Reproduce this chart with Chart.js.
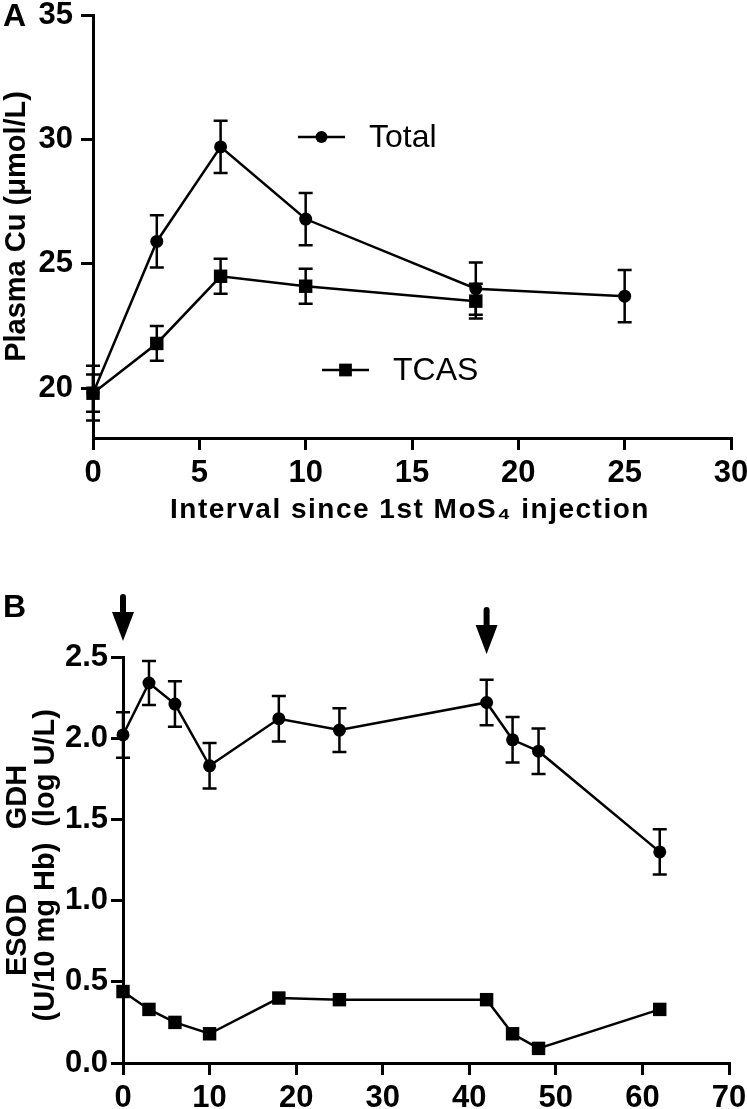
<!DOCTYPE html>
<html>
<head>
<meta charset="utf-8">
<script src="https://cdn.jsdelivr.net/npm/chart.js@4.4.1/dist/chart.umd.min.js"></script>
<style>
  html, body { margin: 0; padding: 0; background: #fff; }
  .panel { position: absolute; left: 0; width: 747px; }
  #wrapA { top: 0; height: 540px; }
  #wrapB { top: 540px; height: 569px; }
</style>
</head>
<body>
<div class="panel" id="wrapA"><canvas id="chartA" width="747" height="540"></canvas></div>
<div class="panel" id="wrapB"><canvas id="chartB" width="747" height="569"></canvas></div>
<script>
// Panel A: plasma copper after the first MoS4 injection
const daysTotal = [0, 3, 6, 10, 18, 25];
const totalCu = [19.8, 25.9, 29.7, 26.8, 24.0, 23.7];
const totalCuErr = [1.1, 1.05, 1.05, 1.05, 1.05, 1.05];
const daysTcas = [0, 3, 6, 10, 18];
const tcasCu = [19.8, 21.8, 24.5, 24.1, 23.5];
const tcasCuErr = [0.75, 0.7, 0.7, 0.7, 0.7];
const xTicksA = [0, 5, 10, 15, 20, 25, 30];
const yTicksA = [20, 25, 30, 35];

// Panel B: GDH and ESOD
const daysB = [0, 3, 6, 10, 18, 25, 42, 45, 48, 62];
const gdh = [2.02, 2.34, 2.21, 1.83, 2.12, 2.05, 2.22, 1.99, 1.92, 1.30];
const gdhErr = [0.14, 0.135, 0.14, 0.14, 0.14, 0.135, 0.14, 0.14, 0.14, 0.14];
const esod = [0.44, 0.33, 0.25, 0.18, 0.40, 0.39, 0.39, 0.18, 0.09, 0.33];
const xTicksB = [0, 10, 20, 30, 40, 50, 60, 70];
const yTicksB = [0, 0.5, 1.0, 1.5, 2.0, 2.5];
const injectionDays = [0, 42];

const tickFont = { family: 'Liberation Sans Narrow, Liberation Sans, sans-serif', weight: 'bold', size: 31 };

function points(xs, ys) {
    return xs.map((x, i) => ({ x: x, y: ys[i] }));
}

// zet de maat van de as vast zodat het plotgebied precies valt
function fixWidth(w) {
    return s => { s.width = w; s.paddingTop = 0; s.paddingBottom = 0; s.paddingLeft = 0; s.paddingRight = 0; };
}
function fixHeight(h) {
    return s => { s.height = h; s.paddingTop = 0; s.paddingBottom = 0; s.paddingLeft = 0; s.paddingRight = 0; };
}
function useTicks(list) {
    return s => { s.ticks = list.map(v => ({ value: v })); };
}

function axis(extra) {
    return Object.assign({
        type: 'linear',
        grid: { display: true, drawOnChartArea: false, drawTicks: true, tickLength: 12, lineWidth: 3, color: '#000' },
        border: { display: true, color: '#000', width: 3 },
        ticks: { color: '#000', font: tickFont, padding: 5, autoSkip: false, maxRotation: 0 }
    }, extra);
}

function drawMarker(ctx, style, x, y, r) {
    ctx.beginPath();
    if (style === 'rect') {
        const s = r * Math.SQRT1_2;
        ctx.rect(x - s, y - s, 2 * s, 2 * s);
    } else {
        ctx.arc(x, y, r, 0, Math.PI * 2);
    }
    ctx.fill();
}

function rotatedText(ctx, text, x, y) {
    ctx.save();
    ctx.translate(x, y);
    ctx.rotate(-Math.PI / 2);
    ctx.fillText(text, 0, 0);
    ctx.restore();
}

// Foutbalken tekenen vanuit de schalen van de grafiek
const errorBarPlugin = {
    id: 'errorBars',
    beforeDatasetsDraw(chart) {
        const ctx = chart.ctx;
        const xs = chart.scales.x, ys = chart.scales.y;
        ctx.save();
        ctx.strokeStyle = '#000';
        ctx.lineWidth = 2.5;
        chart.data.datasets.forEach(ds => {
            if (!ds.errors) return;
            ds.data.forEach((p, i) => {
                const e = ds.errors[i];
                const px = xs.getPixelForValue(p.x);
                const top = ys.getPixelForValue(p.y + e);
                const bot = ys.getPixelForValue(p.y - e);
                ctx.beginPath();
                ctx.moveTo(px, top); ctx.lineTo(px, bot);
                ctx.moveTo(px - 7, top); ctx.lineTo(px + 7, top);
                ctx.moveTo(px - 7, bot); ctx.lineTo(px + 7, bot);
                ctx.stroke();
            });
        });
        ctx.restore();
    }
};

function lineSet(label, data, style, radius, errors) {
    return {
        label: label,
        data: data,
        errors: errors,
        borderColor: '#000',
        backgroundColor: '#000',
        borderWidth: 2.5,
        pointStyle: style,
        pointRadius: radius,
        pointBorderWidth: 0,
        pointBackgroundColor: '#000',
        tension: 0,
        clip: false
    };
}

// Panel A: legenda binnen het plotgebied, plus de x-titel met wat letterafstand
const legendA = [
    { x: 298, y: 137 },
    { x: 322, y: 370 }
];
const xTitleA = 'Interval since 1st MoS\u2084 injection';
const legendPluginA = {
    id: 'legendA',
    afterDraw(chart) {
        const ctx = chart.ctx;
        ctx.save();
        ctx.fillStyle = '#000';
        ctx.strokeStyle = '#000';
        ctx.lineWidth = 2.5;
        chart.data.datasets.forEach((ds, i) => {
            const pos = legendA[i];
            ctx.beginPath();
            ctx.moveTo(pos.x, pos.y); ctx.lineTo(pos.x + 47, pos.y);
            ctx.stroke();
            drawMarker(ctx, ds.pointStyle, pos.x + 23.5, pos.y, ds.pointStyle === 'rect' ? 9 : 6);
            ctx.font = '32px "Liberation Sans"';
            ctx.textBaseline = 'middle';
            ctx.textAlign = 'left';
            ctx.fillText(ds.label, pos.x + 71, pos.y + 1);
        });
        ctx.font = 'bold 32px "Liberation Sans"';
        ctx.textBaseline = 'middle';
        ctx.fillText('A', 3, 17);

        const area = chart.chartArea;
        ctx.font = 'bold 28px "Liberation Sans"';
        ctx.letterSpacing = '1.5px';
        ctx.textAlign = 'center';
        ctx.fillText(xTitleA, (area.left + area.right) / 2 - 2, 510);
        ctx.letterSpacing = '0px';

        ctx.font = 'bold 29px "Liberation Sans"';
        rotatedText(ctx, 'Plasma Cu (\u03bcmol/L)', 17, (area.top + area.bottom) / 2);
        ctx.restore();
    }
};

const chartA = new Chart(document.getElementById('chartA').getContext('2d'), {
    type: 'line',
    data: {
        datasets: [
            lineSet('Total', points(daysTotal, totalCu), 'circle', 6.5, totalCuErr),
            lineSet('TCAS', points(daysTcas, tcasCu), 'rect', 9.5, tcasCuErr)
        ]
    },
    options: {
        responsive: false,
        animation: false,
        devicePixelRatio: 1,
        layout: { padding: { top: 15, right: 16, left: 0, bottom: 0 } },
        plugins: { legend: { display: false }, tooltip: { enabled: false } },
        scales: {
            x: axis({
                min: 0, max: 30,
                afterBuildTicks: useTicks(xTicksA),
                afterFit: fixHeight(102)
            }),
            y: axis({
                min: 18, max: 35,
                afterBuildTicks: useTicks(yTicksA),
                afterFit: fixWidth(93),
                ticks: { color: '#000', font: tickFont, padding: 8, autoSkip: false }
            })
        }
    },
    plugins: [errorBarPlugin, legendPluginA]
});

// Panel B: pijlen bij de injecties en twee gestapelde astitels
const arrowTop = [55, 68];
const yTitlesB = [
    { text: 'GDH', x: 18, y: 257 },
    { text: '(log U/L)', x: 46, y: 228 },
    { text: 'ESOD', x: 18, y: 395 },
    { text: '(U/10 mg Hb)', x: 46, y: 392 }
];
const decorPluginB = {
    id: 'decorB',
    afterDraw(chart) {
        const ctx = chart.ctx;
        const xs = chart.scales.x;
        ctx.save();
        ctx.fillStyle = '#000';
        ctx.strokeStyle = '#000';
        injectionDays.forEach((d, i) => {
            const px = xs.getPixelForValue(d);
            const t = arrowTop[i];
            ctx.lineWidth = 6;
            ctx.lineCap = 'round';
            ctx.beginPath();
            ctx.moveTo(px, t + 2); ctx.lineTo(px, t + 18);
            ctx.stroke();
            ctx.beginPath();
            ctx.moveTo(px - 11, t + 17);
            ctx.lineTo(px + 11, t + 17);
            ctx.lineTo(px, t + 46);
            ctx.closePath();
            ctx.fill();
        });
        ctx.font = 'bold 29px "Liberation Sans"';
        ctx.textAlign = 'center';
        ctx.textBaseline = 'middle';
        yTitlesB.forEach(t => rotatedText(ctx, t.text, t.x, t.y));
        ctx.font = 'bold 32px "Liberation Sans"';
        ctx.textAlign = 'left';
        ctx.fillText('B', 3, 68);
        ctx.restore();
    }
};

const chartB = new Chart(document.getElementById('chartB').getContext('2d'), {
    type: 'line',
    data: {
        datasets: [
            lineSet('GDH', points(daysB, gdh), 'circle', 6.5, gdhErr),
            lineSet('ESOD', points(daysB, esod), 'rect', 9.5, null)
        ]
    },
    options: {
        responsive: false,
        animation: false,
        devicePixelRatio: 1,
        layout: { padding: { top: 117, right: 18, left: 0, bottom: 0 } },
        plugins: { legend: { display: false }, tooltip: { enabled: false } },
        scales: {
            x: axis({
                min: 0, max: 70,
                afterBuildTicks: useTicks(xTicksB),
                afterFit: fixHeight(46)
            }),
            y: axis({
                min: 0, max: 2.5,
                afterBuildTicks: useTicks(yTicksB),
                afterFit: fixWidth(123),
                ticks: { color: '#000', font: tickFont, padding: 3, autoSkip: false, callback: v => v.toFixed(1) }
            })
        }
    },
    plugins: [errorBarPlugin, decorPluginB]
});
</script>
</body>
</html>
